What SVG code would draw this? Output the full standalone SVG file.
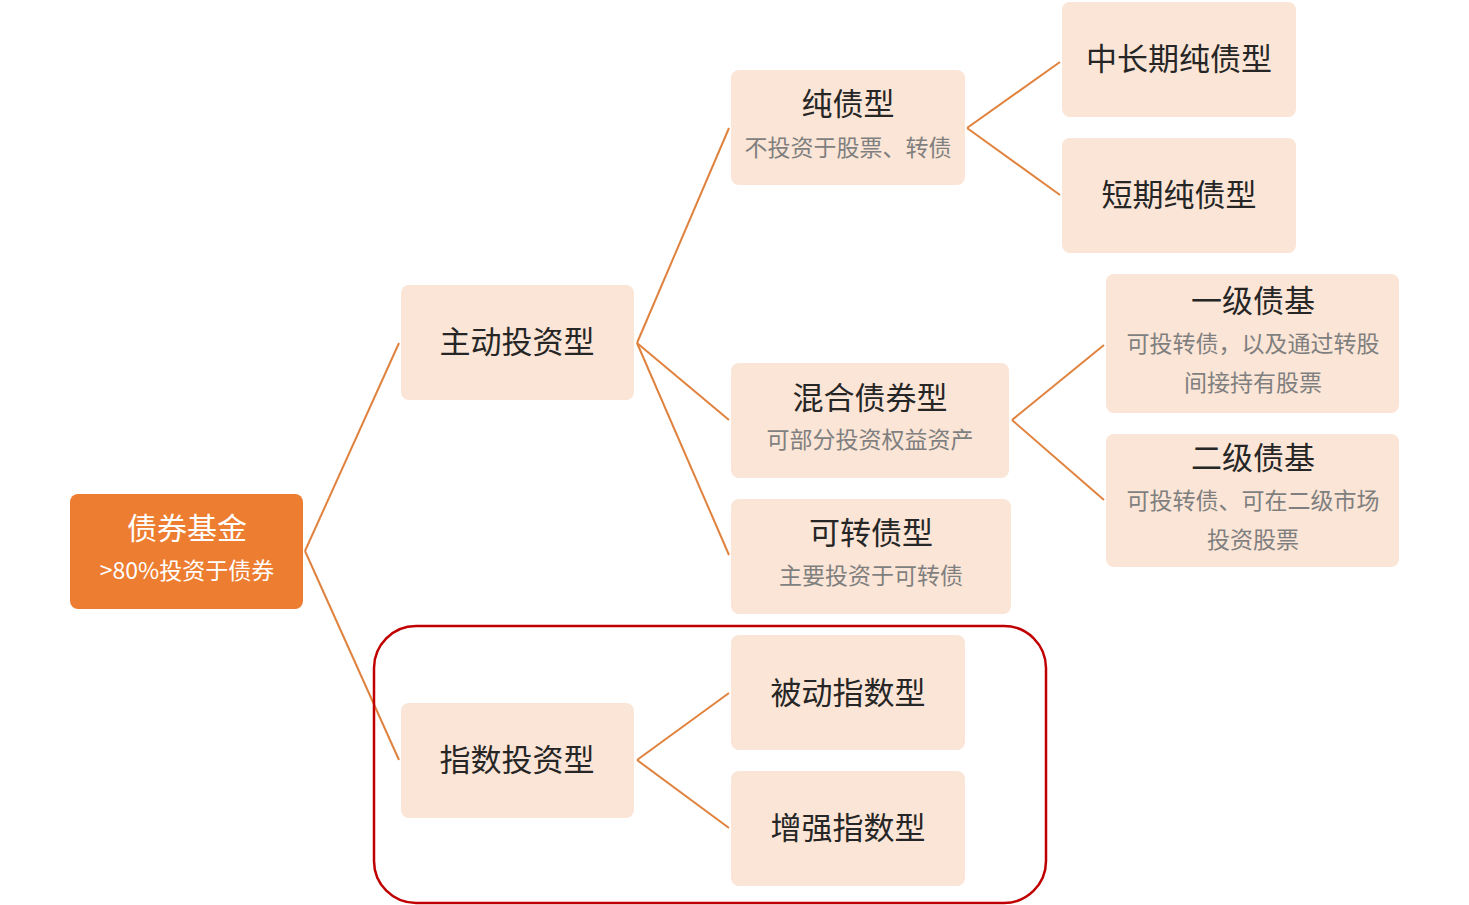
<svg xmlns="http://www.w3.org/2000/svg" width="1469" height="905" viewBox="0 0 1469 905">
<style>
.n{fill:#FBE5D6;}
.t{font-family:"Noto Sans CJK SC","Liberation Sans",sans-serif;font-size:31px;fill:#262626;text-anchor:middle;}
.s{font-family:"Noto Sans CJK SC","Liberation Sans",sans-serif;font-size:23px;fill:#7F7F7F;text-anchor:middle;}
.c line{stroke:#E0823D;stroke-width:2;}
</style>
<rect width="1469" height="905" fill="#fff"/>
<g class="c">
<line x1="305" y1="551" x2="399" y2="343"/><line x1="305" y1="551" x2="399" y2="760"/>
<line x1="637" y1="343" x2="729" y2="128"/><line x1="637" y1="343" x2="729" y2="420"/><line x1="637" y1="343" x2="729" y2="555"/>
<line x1="967" y1="128" x2="1060" y2="62"/><line x1="967" y1="128" x2="1060" y2="195"/>
<line x1="1012" y1="420" x2="1104" y2="345"/><line x1="1012" y1="420" x2="1104" y2="500"/>
<line x1="637" y1="760" x2="729" y2="693"/><line x1="637" y1="760" x2="729" y2="828"/>
</g>
<g id="root"><rect x="70" y="494" width="233" height="115" rx="8" fill="#ED7D31"/>
<text class="t" x="187" y="539" style="fill:#fff;font-size:30px">债券基金</text>
<text class="s" x="187" y="579" style="fill:#fff;font-size:23px">&gt;80%投资于债券</text></g>
<g id="active"><rect class="n" x="401" y="285" width="233" height="115" rx="8"/><text class="t" x="517" y="353">主动投资型</text></g>
<g id="index"><rect class="n" x="401" y="703" width="233" height="115" rx="8"/><text class="t" x="517" y="771">指数投资型</text></g>
<g id="pure"><rect class="n" x="731" y="70" width="234" height="115" rx="8"/><text class="t" x="848" y="115">纯债型</text><text class="s" x="848" y="156">不投资于股票、转债</text></g>
<g id="mixed"><rect class="n" x="731" y="363" width="278" height="115" rx="8"/><text class="t" x="870" y="409">混合债券型</text><text class="s" x="870" y="448">可部分投资权益资产</text></g>
<g id="conv"><rect class="n" x="731" y="499" width="280" height="115" rx="8"/><text class="t" x="871" y="544">可转债型</text><text class="s" x="871" y="584">主要投资于可转债</text></g>
<g id="passive"><rect class="n" x="731" y="635" width="234" height="115" rx="8"/><text class="t" x="848" y="704">被动指数型</text></g>
<g id="enhanced"><rect class="n" x="731" y="771" width="234" height="115" rx="8"/><text class="t" x="848" y="839">增强指数型</text></g>
<g id="midlong"><rect class="n" x="1062" y="2" width="234" height="115" rx="8"/><text class="t" x="1179" y="70">中长期纯债型</text></g>
<g id="short"><rect class="n" x="1062" y="138" width="234" height="115" rx="8"/><text class="t" x="1179" y="206">短期纯债型</text></g>
<g id="lvl1"><rect class="n" x="1106" y="274" width="293" height="139" rx="8"/><text class="t" x="1253" y="312">一级债基</text><text class="s" x="1253" y="352">可投转债，以及通过转股</text><text class="s" x="1253" y="391">间接持有股票</text></g>
<g id="lvl2"><rect class="n" x="1106" y="434" width="293" height="133" rx="8"/><text class="t" x="1253" y="469">二级债基</text><text class="s" x="1253" y="509">可投转债、可在二级市场</text><text class="s" x="1253" y="548">投资股票</text></g>
<rect x="374" y="626" width="672" height="277" rx="42" fill="none" stroke="#C00000" stroke-width="2.5"/>
</svg>
